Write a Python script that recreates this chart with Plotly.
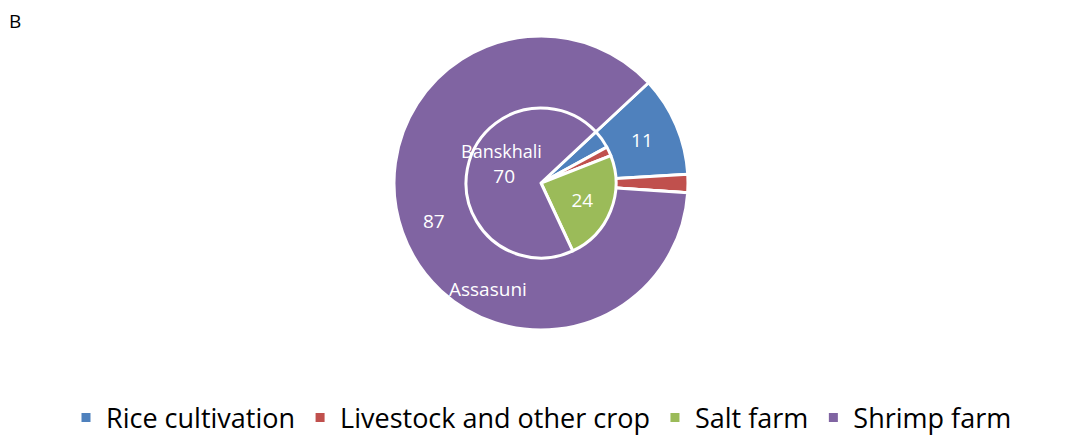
import math
import plotly.graph_objects as go

categories = ["Rice cultivation", "Livestock and other crop", "Salt farm", "Shrimp farm"]
assasuni = [11, 2, 0, 87]
banskhali = [4, 2, 24, 70]
colors = ["#4F81BD", "#C0504D", "#9BBB59", "#8064A2"]

W, H = 1083, 440
cx, cy = 541, 183
r_out, r_in = 147, 75
ROT = 47
FONT = "Open Sans"


def label_text(vals):
    return [str(v) if v >= 10 else "" for v in vals]


def dom(r):
    return dict(x=[(cx - r) / W, (cx + r) / W],
                y=[1 - (cy + r) / H, 1 - (cy - r) / H])


outer_text = label_text(assasuni)
# the big outer slice's value is placed further out (computed from its mid-angle)
big = assasuni.index(max(assasuni))
big_label = outer_text[big]
outer_text[big] = ""

fig = go.Figure()
fig.add_trace(go.Pie(
    labels=categories, values=assasuni, name="Assasuni",
    sort=False, direction="clockwise", rotation=ROT,
    marker=dict(colors=colors, line=dict(color="white", width=3)),
    text=outer_text, textinfo="text", textposition="inside",
    insidetextorientation="horizontal",
    textfont=dict(color="white", size=19, family=FONT),
    domain=dom(r_out), showlegend=True,
))
fig.add_trace(go.Pie(
    labels=categories, values=banskhali, name="Banskhali",
    sort=False, direction="clockwise", rotation=ROT,
    marker=dict(colors=colors, line=dict(color="white", width=3)),
    text=label_text(banskhali), textinfo="text", textposition="inside",
    insidetextorientation="horizontal",
    textfont=dict(color="white", size=19, family=FONT),
    domain=dom(r_in), showlegend=True,
))

# position of the big outer slice label, from its mid angle
total = sum(assasuni)
cum = sum(assasuni[:big]) + assasuni[big] / 2
theta = math.radians(ROT + 360 * cum / total)
rho = 0.77 * r_out
lx = cx + rho * math.sin(theta)
ly = cy - rho * math.cos(theta)
fig.add_annotation(text=big_label, x=lx / W, y=1 - ly / H, xref="paper", yref="paper",
                   showarrow=False, font=dict(size=19, color="white", family=FONT),
                   xanchor="center", yanchor="middle")

fig.add_annotation(text="B", x=15 / W, y=1 - 21 / H, xref="paper", yref="paper",
                   showarrow=False, font=dict(size=19, color="black", family=FONT),
                   xanchor="center", yanchor="middle")
fig.add_annotation(text="Assasuni", x=488 / W, y=1 - 289 / H, xref="paper", yref="paper",
                   showarrow=False, font=dict(size=19, color="white", family=FONT),
                   xanchor="center", yanchor="middle")
fig.add_annotation(text="Banskhali", x=501 / W, y=1 - 151 / H, xref="paper", yref="paper",
                   showarrow=False, font=dict(size=18, color="white", family=FONT),
                   xanchor="center", yanchor="middle")

fig.update_layout(
    width=W, height=H,
    margin=dict(l=0, r=0, t=0, b=0, autoexpand=False),
    paper_bgcolor="white", plot_bgcolor="white",
    legend=dict(orientation="h", x=0.5, xanchor="center", y=1 - 418 / H, yanchor="middle",
                font=dict(size=27, color="black", family=FONT), traceorder="normal",
                itemwidth=30),
)
fig.write_html("out.html", config={"displayModeBar": False},
               post_script="document.body.style.margin='0';document.body.style.padding='0';")
